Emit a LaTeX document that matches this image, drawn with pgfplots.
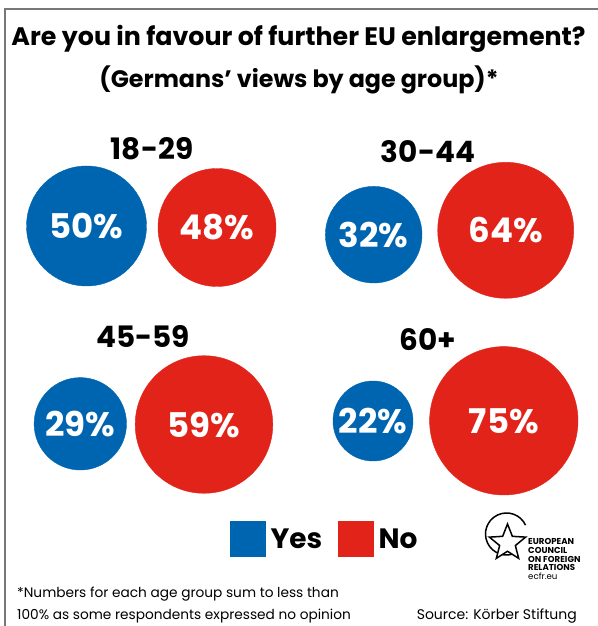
\documentclass[border=0pt]{standalone}
\usepackage{fontspec}
\setmainfont{Poppins}
\usepackage{pgfplots}
\pgfplotsset{compat=1.18}
\usetikzlibrary{shapes.geometric}
\definecolor{yesblue}{RGB}{0,101,176}
\definecolor{nored}{RGB}{226,35,26}
\definecolor{framegray}{RGB}{120,120,120}
\newcommand{\fs}[1]{\fontsize{#1bp}{#1bp}\selectfont}
\pgfplotsset{
  bub/.style n args={2}{only marks, mark=*, mark size=#1bp, color=#2,
    point meta=explicit symbolic, nodes near coords,
    every node near coord/.style={anchor=center, text=white, font=\bfseries\fs{34}},
    forget plot},
}
\begin{document}
\begin{tikzpicture}
\begin{axis}[at={(0,0)}, anchor=south west, scale only axis,
  width=598bp, height=626bp, xmin=0, xmax=598, ymin=-626, ymax=0,
  axis lines=none, clip=false,
  legend columns=2,
  legend style={at={(axis cs:230,-539)}, anchor=west, draw=none, fill=none,
    font=\bfseries\fs{28}, inner sep=0pt,
    /tikz/every odd column/.style={column sep=3bp},
    /tikz/every even column/.style={column sep=14bp}},
]
% frame
\draw[framegray, line width=1.3bp] (axis cs:5,-626) -- (axis cs:5,-9) -- (axis cs:598,-9);
% legend
\addlegendimage{legend image code/.code={\fill[yesblue] (0bp,-17.5bp) rectangle (35bp,17.5bp);}}
\addlegendentry{Yes}
\addlegendimage{legend image code/.code={\fill[nored] (0bp,-17.5bp) rectangle (35bp,17.5bp);}}
\addlegendentry{No}
% 18-29
\addplot[bub={60}{yesblue}] coordinates {(86.5,-226) [50\%]};
\addplot[bub={59}{nored}] coordinates {(217,-227.5) [48\%]};
% 30-44
\addplot[bub={48.3}{yesblue}] coordinates {(373.7,-234.7) [32\%]};
\addplot[bub={68}{nored}] coordinates {(505.7,-230.3) [64\%]};
% 45-59
\addplot[bub={46.2}{yesblue}] coordinates {(80.3,-423.8) [29\%]};
\addplot[bub={68.8}{nored}] coordinates {(204,-424.5) [59\%]};
% 60+
\addplot[bub={40}{yesblue}] coordinates {(373,-421) [22\%]};
\addplot[bub={74.2}{nored}] coordinates {(503.8,-420.8) [75\%]};
% titles
\node[anchor=base, font=\bfseries\fs{25.3}] at (axis cs:298.5,-46) {Are you in favour of further EU enlargement?};
\node[anchor=base, font=\bfseries\fs{23.8}] at (axis cs:299,-88) {(Germans’ views by age group)*};
% age labels
\node[anchor=base, font=\bfseries\fs{29.5}] at (axis cs:152,-160) {18-29};
\node[anchor=base, font=\bfseries\fs{29.5}] at (axis cs:428,-163) {30-44};
\node[anchor=base, font=\bfseries\fs{29.5}] at (axis cs:143,-348) {45-59};
\node[anchor=base, font=\bfseries\fs{29.5}] at (axis cs:428,-351) {60+};
% footnote
\node[anchor=base west, inner sep=0pt, font=\fs{13.7}] at (axis cs:17,-598) {*Numbers for each age group sum to less than};
\node[anchor=base west, inner sep=0pt, font=\fs{13.7}] at (axis cs:17,-620) {100\% as some respondents expressed no opinion};
\node[anchor=base east, inner sep=0pt, font=\fs{14}] at (axis cs:577,-620) {Source: Körber Stiftung};
% logo
\draw[line width=1.5bp] (axis cs:506.5,-534) ++(25:21bp) arc[start angle=25, end angle=295, radius=21bp];
\node[star, star points=5, star point ratio=2.3, draw, line width=1.5bp, fill=white, minimum size=38bp, inner sep=0pt] at (axis cs:507.5,-543) {};
\node[anchor=north west, inner sep=0pt, align=left, font=\bfseries\fs{8.6}] at (axis cs:528,-538.5) {\fontsize{8.6bp}{8.3bp}\selectfont EUROPEAN\\COUNCIL\\ON FOREIGN\\RELATIONS\\{\mdseries ecfr.eu}};
\end{axis}
\pgfresetboundingbox
\useasboundingbox (0,0) rectangle (598bp,626bp);
\end{tikzpicture}
\end{document}
